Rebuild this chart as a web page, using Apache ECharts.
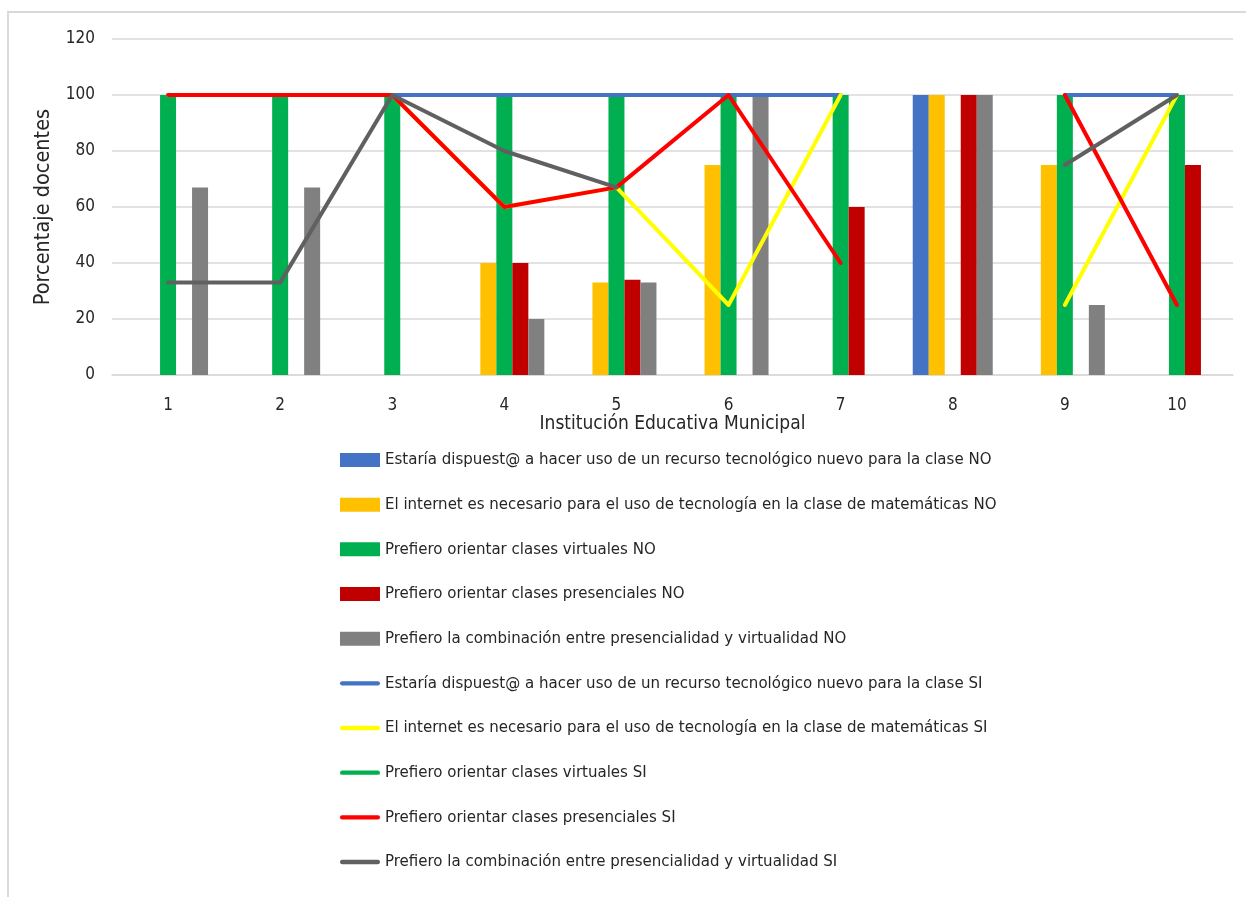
<!DOCTYPE html>
<html>
<head>
<meta charset="utf-8">
<script src="https://cdn.jsdelivr.net/npm/echarts@6/dist/echarts.min.js"></script>
<style>
  html, body { margin: 0; padding: 0; background: #ffffff; }
  #chart { width: 1246px; height: 897px; }
</style>
</head>
<body>
<div id="chart"></div>
<script>
// Institutions (x axis)
const categories = ['1', '2', '3', '4', '5', '6', '7', '8', '9', '10'];

// Percentage of teachers answering NO (bars)
const dispuestoNo    = [null, null, null, null, null, null, null, 100, null, null];
const internetNo     = [null, null, null, 40, 33, 75, null, 100, 75, null];
const virtualesNo    = [100, 100, 100, 100, 100, 100, 100, null, 100, 100];
const presencialesNo = [null, null, null, 40, 34, null, 60, 100, null, 75];
const combinacionNo  = [67, 67, null, 20, 33, 100, null, 100, 25, null];

// Percentage of teachers answering SI (lines)
const dispuestoSi    = [100, 100, 100, 100, 100, 100, 100, null, 100, 100];
const internetSi     = [100, 100, 100, 60, 67, 25, 100, null, 25, 100];
const virtualesSi    = [null, null, null, null, null, null, null, 100, null, null];
const presencialesSi = [100, 100, 100, 60, 67, 100, 40, null, 100, 25];
const combinacionSi  = [33, 33, 100, 80, 67, null, 100, null, 75, 100];

// Axis ticks
const yMin = 0, yMax = 120, yStep = 20;

const names = {
  dispuesto: 'Estaría dispuest@ a hacer uso de un recurso tecnológico nuevo para la clase',
  internet: 'El internet es necesario para el uso de tecnología en la clase de matemáticas',
  virtuales: 'Prefiero orientar clases virtuales',
  presenciales: 'Prefiero orientar clases presenciales',
  combinacion: 'Prefiero la combinación entre presencialidad y virtualidad'
};

const FONT = "'DejaVu Sans Condensed', 'DejaVu Sans', sans-serif";
const TEXT = '#262626';
// Thick rounded stroke used as the legend key of the line series
const LINE_KEY = 'path://M2,0 L38,0 A2,2 0 0 1 38,4.4 L2,4.4 A2,2 0 0 1 2,0 Z';

function bar(name, data, color) {
  return {
    name: name, type: 'bar', data: data, barWidth: 16, barGap: '0%',
    itemStyle: { color: color }
  };
}
function line(name, data, color) {
  return {
    name: name, type: 'line', data: data, symbol: 'none', connectNulls: false,
    lineStyle: { color: color, width: 4, cap: 'round', join: 'round' },
    itemStyle: { color: color }
  };
}

const series = [
  bar(names.dispuesto + ' NO', dispuestoNo, '#4472C4'),
  bar(names.internet + ' NO', internetNo, '#FFC000'),
  bar(names.virtuales + ' NO', virtualesNo, '#00B050'),
  bar(names.presenciales + ' NO', presencialesNo, '#C00000'),
  bar(names.combinacion + ' NO', combinacionNo, '#808080'),
  line(names.dispuesto + ' SI', dispuestoSi, '#4472C4'),
  line(names.internet + ' SI', internetSi, '#FFFF00'),
  line(names.virtuales + ' SI', virtualesSi, '#00B050'),
  line(names.presenciales + ' SI', presencialesSi, '#FF0000'),
  line(names.combinacion + ' SI', combinacionSi, '#606060')
];

const legendData = series.map(s => ({
  name: s.name,
  icon: s.type === 'bar' ? 'rect' : LINE_KEY
}));

const chart = echarts.init(document.getElementById('chart'));
chart.setOption({
  animation: false,
  backgroundColor: '#ffffff',
  textStyle: { fontFamily: FONT },
  graphic: [{
    type: 'rect', z: -10, silent: true,
    shape: { x: 8, y: 12, width: 1400, height: 1000 },
    style: { fill: 'none', stroke: '#d9d9d9', lineWidth: 2 }
  }],
  grid: { left: 112, right: 13, top: 39, bottom: 522, containLabel: false },
  xAxis: {
    type: 'category',
    data: categories,
    boundaryGap: true,
    name: 'Institución Educativa Municipal',
    nameLocation: 'middle',
    nameGap: 37,
    nameTextStyle: { fontSize: 19, color: TEXT, fontFamily: FONT },
    axisLine: { lineStyle: { color: '#d9d9d9', width: 1.5 } },
    axisTick: { show: false },
    axisLabel: { fontSize: 17, color: TEXT, margin: 22, fontFamily: FONT }
  },
  yAxis: {
    type: 'value',
    min: yMin, max: yMax, interval: yStep,
    name: 'Porcentaje docentes',
    nameLocation: 'middle',
    nameRotate: 90,
    nameGap: 47,
    nameTextStyle: { fontSize: 21.5, color: TEXT, fontFamily: FONT },
    axisLine: { show: false },
    axisTick: { show: false },
    axisLabel: { fontSize: 17, color: TEXT, margin: 17, fontFamily: FONT },
    splitLine: { lineStyle: { color: '#d9d9d9', width: 1.5 } }
  },
  legend: {
    orient: 'vertical',
    left: 340, top: 450,
    padding: 0,
    itemWidth: 40, itemHeight: 14,
    itemGap: 24.67,
    symbolKeepAspect: true,
    textStyle: { fontSize: 16.7, color: TEXT, lineHeight: 20, fontFamily: FONT },
    data: legendData
  },
  series: series
});
</script>
</body>
</html>
